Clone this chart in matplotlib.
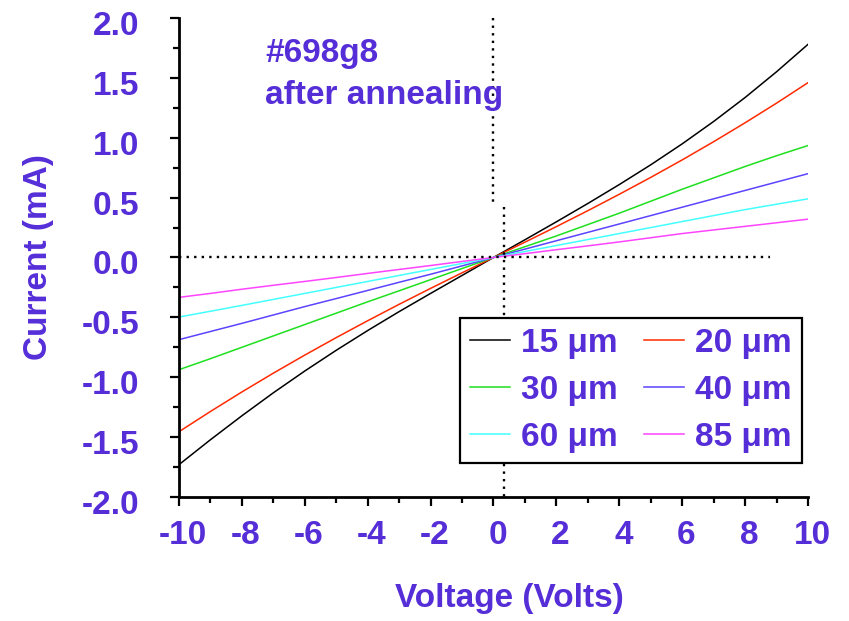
import numpy as np
import matplotlib
matplotlib.use("Agg")
import matplotlib.pyplot as plt
from matplotlib.ticker import MultipleLocator, FormatStrFormatter
from matplotlib.transforms import ScaledTranslation

# I-V sweeps of the #698g8 sample after annealing, one per contact spacing
voltage = [-10, -9, -8, -7, -6, -5, -4, -3, -2, -1, 0,
           1, 2, 3, 4, 5, 6, 7, 8, 9, 10]
i_15um = [-1.73, -1.522, -1.322, -1.13, -0.948, -0.775, -0.61, -0.452, -0.30, -0.15, 0.0,
          0.148, 0.298, 0.451, 0.609, 0.774, 0.949, 1.136, 1.336, 1.551, 1.78]
i_20um = [-1.455, -1.286, -1.123, -0.966, -0.815, -0.669, -0.528, -0.391, -0.258, -0.128, 0.0,
          0.128, 0.258, 0.391, 0.528, 0.669, 0.815, 0.967, 1.125, 1.289, 1.46]
i_30um = [-0.937, -0.845, -0.75, -0.655, -0.56, -0.465, -0.37, -0.278, -0.185, -0.092, 0.0,
          0.09, 0.18, 0.275, 0.37, 0.47, 0.57, 0.665, 0.76, 0.85, 0.935]
i_40um = [-0.686, -0.618, -0.55, -0.48, -0.41, -0.343, -0.275, -0.207, -0.14, -0.07, 0.0,
          0.07, 0.14, 0.21, 0.28, 0.35, 0.42, 0.49, 0.56, 0.63, 0.70]
i_60um = [-0.497, -0.449, -0.40, -0.35, -0.30, -0.25, -0.20, -0.15, -0.10, -0.05, 0.0,
          0.05, 0.10, 0.15, 0.20, 0.25, 0.30, 0.35, 0.40, 0.445, 0.49]
i_85um = [-0.333, -0.30, -0.265, -0.232, -0.20, -0.167, -0.133, -0.10, -0.067, -0.033, 0.0,
          0.032, 0.065, 0.097, 0.13, 0.165, 0.20, 0.23, 0.26, 0.29, 0.32]

labels = ["15 \u03bcm", "20 \u03bcm", "30 \u03bcm", "40 \u03bcm", "60 \u03bcm", "85 \u03bcm"]
colors = ["black", "#ff2a00", "#1ee01e", "#5a44ff", "#44ffff", "#ff44ff"]

# dotted guide lines
zero_line_end = 8.8
guide_upper_x, guide_upper_y = 0.0, 0.46
guide_lower_x, guide_lower_y = 0.34, 0.42

purple = "#552ed8"
plt.rcParams["font.family"] = ["Liberation Sans", "DejaVu Sans"]
plt.rcParams["font.weight"] = "bold"
plt.rcParams["axes.labelweight"] = "bold"
plt.rcParams["axes.unicode_minus"] = False

fig = plt.figure(figsize=(8.49, 6.21), dpi=100)
ax = fig.add_axes([0.2108, 0.1997, 0.7409, 0.7713])

curves = [i_15um, i_20um, i_30um, i_40um, i_60um, i_85um]
lines = []
for cur, lab, col in zip(curves, labels, colors):
    ln, = ax.plot(voltage, cur, color=col, lw=1.1, label=lab)
    lines.append(ln)

dot = (0, (1, 2.2))
ax.plot([-10, zero_line_end], [0, 0], color="black", lw=1.7, ls=dot)
ax.plot([guide_upper_x, guide_upper_x], [2.0, guide_upper_y], color="black", lw=1.7, ls=dot)
ax.plot([guide_lower_x, guide_lower_x], [guide_lower_y, -2.0], color="black", lw=1.7, ls=dot)

ax.set_xlim(-10, 10)
ax.set_ylim(-2, 2)
ax.xaxis.set_major_locator(MultipleLocator(2))
ax.xaxis.set_minor_locator(MultipleLocator(1))
ax.yaxis.set_major_locator(MultipleLocator(0.5))
ax.yaxis.set_minor_locator(MultipleLocator(0.25))
ax.yaxis.set_major_formatter(FormatStrFormatter("%.1f"))

for side in ["top", "right"]:
    ax.spines[side].set_visible(False)
for side in ["left", "bottom"]:
    ax.spines[side].set_linewidth(2.0)

ax.tick_params(which="major", direction="out", length=6.5, width=1.6,
               labelsize=24, labelcolor=purple)
ax.tick_params(which="minor", direction="out", length=4.5, width=1.6)
ax.tick_params(axis="y", which="major", pad=22)
ax.tick_params(axis="x", which="major", pad=10)

# labels sit a little right of / below their ticks
for t in ax.get_xticklabels():
    t.set_transform(t.get_transform() + ScaledTranslation(0.04, 0, fig.dpi_scale_trans))
for t in ax.get_yticklabels():
    t.set_transform(t.get_transform() + ScaledTranslation(0, -0.05, fig.dpi_scale_trans))

ax.set_xlabel("Voltage (Volts)", fontsize=24, color=purple)
ax.set_ylabel("Current (mA)", fontsize=24, color=purple)
ax.xaxis.set_label_coords(0.526, -0.18)
ax.yaxis.set_label_coords(-0.199, 0.5)

ax.text(0.137, 0.908, "#698g8", transform=ax.transAxes, fontsize=24,
        color=purple, va="baseline")
ax.text(0.137, 0.8205, "after annealing", transform=ax.transAxes, fontsize=24,
        color=purple, va="baseline")

# legend filled row by row: 15/20, 30/40, 60/85
order = [0, 2, 4, 1, 3, 5]
leg = ax.legend([lines[i] for i in order], [labels[i] for i in order],
                ncol=2, loc="lower right", bbox_to_anchor=(0.99, 0.071),
                borderaxespad=0, fontsize=24, frameon=True, fancybox=False,
                framealpha=1, edgecolor="black", handlelength=1.2,
                handletextpad=0.32, columnspacing=0.8, labelspacing=0.48,
                borderpad=0.3)
leg.get_frame().set_linewidth(1.6)
for txt in leg.get_texts():
    txt.set_color(purple)

fig.savefig("out.png", dpi=100)
